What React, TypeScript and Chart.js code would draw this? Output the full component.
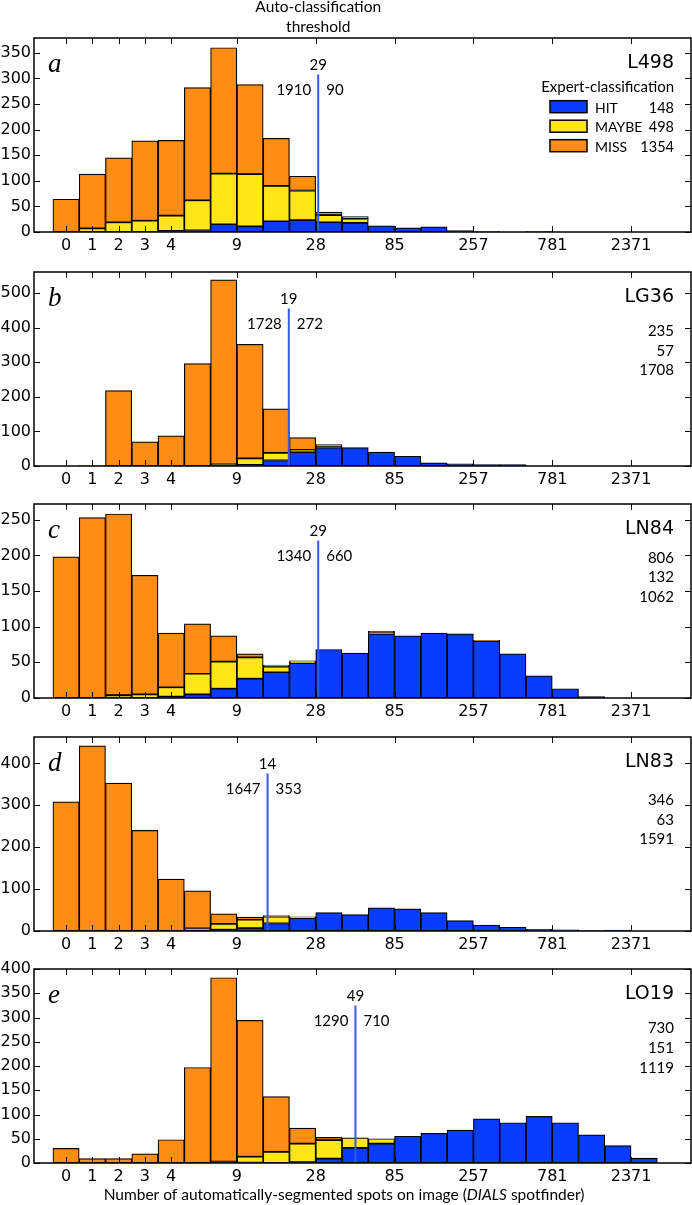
import React, { useEffect, useRef } from "react";
import { Chart, registerables } from "chart.js";

Chart.register(...registerables);

// ---------------- DATA ----------------
// Bin index (histogram bins on the x axis, one per bar)
const BIN_INDEX = [0, 1, 2, 3, 4, 5, 6, 7, 8, 9, 10, 11, 12, 13, 14, 15, 16, 17, 18, 19, 20, 21, 22];
// Tick values and the bin positions at which they sit
const TICK_VALUES = [0, 1, 2, 3, 4, 9, 28, 85, 257, 781, 2371];
const TICK_BIN = [0, 1, 2, 3, 4, 6.5, 9.5, 12.5, 15.5, 18.5, 21.5];

const CLASSES = ["HIT", "MAYBE", "MISS"];

// a: L498
const L498_HIT = [0, 0, 0, 0, 2, 3, 15, 11, 21, 23, 19, 18, 12, 8, 10, 3, 1, 0, 1, 0, 0, 0, 0];
const L498_MAYBE = [0, 7, 19, 22, 30, 59, 99, 102, 69, 58, 14, 8, 0, 0, 0, 0, 0, 0, 0, 0, 0, 0, 0];
const L498_MISS = [64, 106, 126, 156, 147, 220, 246, 175, 93, 28, 6, 4, 0, 0, 0, 0, 0, 0, 0, 0, 0, 0, 0];
const L498_COUNTS = [148, 498, 1354];
const L498_THRESHOLD = 29;
const L498_SPLIT = [1910, 90];

// b: LG36
const LG36_HIT = [0, 0, 0, 0, 0, 0, 1, 3, 16, 40, 53, 53, 40, 28, 9, 6, 4, 4, 0, 0, 0, 0, 0];
const LG36_MAYBE = [0, 0, 0, 0, 0, 0, 4, 19, 22, 7, 3, 0, 0, 0, 0, 0, 0, 0, 0, 0, 0, 0, 0];
const LG36_MISS = [0, 1, 218, 70, 87, 296, 533, 330, 127, 35, 6, 0, 0, 0, 0, 0, 0, 0, 0, 0, 0, 0, 0];
const LG36_COUNTS = [235, 57, 1708];
const LG36_THRESHOLD = 19;
const LG36_SPLIT = [1728, 272];

// c: LN84
const LN84_HIT = [0, 0, 1, 0, 2, 5, 13, 27, 36, 49, 68, 63, 90, 87, 91, 90, 80, 62, 31, 13, 2, 0, 0];
const LN84_MAYBE = [0, 0, 3, 5, 13, 29, 38, 30, 8, 1, 0, 0, 1, 0, 0, 0, 0, 0, 0, 0, 0, 0, 0];
const LN84_MISS = [198, 253, 254, 167, 76, 70, 36, 5, 2, 2, 0, 0, 3, 0, 0, 0, 1, 0, 0, 0, 0, 0, 0];
const LN84_COUNTS = [806, 132, 1062];
const LN84_THRESHOLD = 29;
const LN84_SPLIT = [1340, 660];

// d: LN83
const LN83_HIT = [0, 0, 0, 0, 0, 1, 3, 7, 18, 31, 44, 39, 55, 53, 44, 25, 14, 9, 4, 3, 1, 2, 0];
const LN83_MAYBE = [0, 0, 0, 0, 0, 5, 14, 20, 16, 2, 0, 0, 0, 0, 0, 0, 0, 0, 0, 0, 0, 0, 0];
const LN83_MISS = [308, 442, 353, 240, 124, 90, 24, 6, 3, 1, 0, 0, 0, 0, 0, 0, 0, 0, 0, 0, 0, 0, 0];
const LN83_COUNTS = [346, 63, 1591];
const LN83_THRESHOLD = 14;
const LN83_SPLIT = [1647, 353];

// e: LO19
const LO19_HIT = [0, 0, 0, 0, 0, 0, 1, 1, 0, 2, 9, 31, 40, 55, 61, 68, 91, 83, 96, 83, 58, 36, 10];
const LO19_MAYBE = [0, 0, 0, 0, 0, 0, 2, 12, 23, 38, 38, 21, 10, 0, 0, 0, 0, 0, 0, 0, 0, 0, 0];
const LO19_MISS = [30, 9, 9, 19, 48, 197, 379, 281, 114, 32, 6, 0, 0, 0, 0, 0, 0, 0, 0, 0, 0, 0, 0];
const LO19_COUNTS = [730, 151, 1119];
const LO19_THRESHOLD = 49;
const LO19_SPLIT = [1290, 710];

// ---------------- STYLE / LAYOUT ----------------
const COLORS = ["#0a3cff", "#ffe619", "#ff8c14"];
const LINE_BLUE = "#3558e8";
const W = 692;
const PLOT_H = 194;
const Y_AXIS_W = 34;
const X_AXIS_H = 30;
const RIGHT_PAD = 1;
const X_MIN = -1.22;
const X_MAX = 23.78;
const SANS = '"DejaVu Sans", sans-serif';
const HUMAN = 'Lato, "Open Sans", sans-serif';
const SERIF = '"Liberation Serif", "DejaVu Serif", serif';

const PANELS = [
  { letter: "a", name: "L498", hit: L498_HIT, maybe: L498_MAYBE, miss: L498_MISS, counts: L498_COUNTS, thr: L498_THRESHOLD, split: L498_SPLIT, yMax: 379, yStep: 50, legend: true, plotTop: 38, padTop: 38, padBottom: 0, countBase: 74.7, title: true, xlabel: false },
  { letter: "b", name: "LG36", hit: LG36_HIT, maybe: LG36_MAYBE, miss: LG36_MISS, counts: LG36_COUNTS, thr: LG36_THRESHOLD, split: LG36_SPLIT, yMax: 561, yStep: 100, legend: false, plotTop: 272, padTop: 16, padBottom: 0, countBase: 64, title: false, xlabel: false },
  { letter: "c", name: "LN84", hit: LN84_HIT, maybe: LN84_MAYBE, miss: LN84_MISS, counts: LN84_COUNTS, thr: LN84_THRESHOLD, split: LN84_SPLIT, yMax: 272, yStep: 50, legend: false, plotTop: 503.5, padTop: 16, padBottom: 0, countBase: 58.5, title: false, xlabel: false },
  { letter: "d", name: "LN83", hit: LN83_HIT, maybe: LN83_MAYBE, miss: LN83_MISS, counts: LN83_COUNTS, thr: LN83_THRESHOLD, split: LN83_SPLIT, yMax: 463, yStep: 100, legend: false, plotTop: 737, padTop: 16, padBottom: 0, countBase: 68, title: false, xlabel: false },
  { letter: "e", name: "LO19", hit: LO19_HIT, maybe: LO19_MAYBE, miss: LO19_MISS, counts: LO19_COUNTS, thr: LO19_THRESHOLD, split: LO19_SPLIT, yMax: 400, yStep: 50, legend: false, plotTop: 969, padTop: 16, padBottom: 12, countBase: 64.3, title: false, xlabel: true },
];

// position (in bin units) of a spot count, log-interpolated between labelled bin edges
function binPosition(v: number): number {
  for (let i = 0; i < TICK_VALUES.length - 1; i++) {
    const a = TICK_VALUES[i];
    const b = TICK_VALUES[i + 1];
    if (v >= a && v <= b) {
      const t = i >= 4 ? Math.log(v / a) / Math.log(b / a) : (v - a) / (b - a);
      return TICK_BIN[i] + t * (TICK_BIN[i + 1] - TICK_BIN[i]);
    }
  }
  return TICK_BIN[TICK_BIN.length - 1];
}

function text(ctx: CanvasRenderingContext2D, s: string, x: number, y: number, font: string, align: CanvasTextAlign = "left") {
  ctx.font = font;
  ctx.textAlign = align;
  ctx.textBaseline = "alphabetic";
  ctx.fillStyle = "#000";
  ctx.fillText(s, x, y);
}

function makePlugin(p: any) {
  return {
    id: "decor" + p.letter,
    afterDatasetsDraw(chart: any) {
      const ctx: CanvasRenderingContext2D = chart.ctx;
      const { left, right, top, bottom } = chart.chartArea;
      const xs = chart.scales.x;
      const ys = chart.scales.y;
      ctx.save();
      // threshold line
      const tx = xs.getPixelForValue(binPosition(p.thr));
      ctx.strokeStyle = LINE_BLUE;
      ctx.lineWidth = 2;
      ctx.beginPath();
      ctx.moveTo(tx, top + 36.5);
      ctx.lineTo(tx, bottom);
      ctx.stroke();
      // frame
      ctx.strokeStyle = "#000";
      ctx.lineWidth = 1.5;
      ctx.strokeRect(left, top, right - left, bottom - top);
      // inward ticks
      ctx.lineWidth = 1;
      ctx.beginPath();
      xs.ticks.forEach((t: any) => {
        const x = Math.round(xs.getPixelForValue(t.value)) + 0.5;
        ctx.moveTo(x, bottom);
        ctx.lineTo(x, bottom - 6);
        ctx.moveTo(x, top);
        ctx.lineTo(x, top + 6);
      });
      ys.ticks.forEach((t: any) => {
        const y = Math.round(ys.getPixelForValue(t.value)) + 0.5;
        ctx.moveTo(left, y);
        ctx.lineTo(left + 6, y);
        ctx.moveTo(right, y);
        ctx.lineTo(right - 6, y);
      });
      ctx.stroke();

      // threshold labels
      text(ctx, String(p.thr), tx, top + 31.5, `15px ${HUMAN}`, "center");
      text(ctx, String(p.split[0]), tx - 7, top + 56.5, `15px ${HUMAN}`, "right");
      text(ctx, String(p.split[1]), tx + 8, top + 56.5, `15px ${HUMAN}`, "left");

      // panel name & letter
      text(ctx, p.name, right - 17, top + 29.5, `19px ${SANS}`, "right");
      text(ctx, p.letter, left + 14, top + 34, `italic 27px ${SERIF}`, "left");

      // counts / legend
      if (p.legend) {
        text(ctx, "Expert-classification", right - 17, top + 54, `15px ${HUMAN}`, "right");
        CLASSES.forEach((c, i) => {
          const base = top + p.countBase + i * 19.5;
          ctx.fillStyle = COLORS[i];
          ctx.fillRect(right - 141, base - 12, 37, 12);
          ctx.strokeStyle = "#000";
          ctx.lineWidth = 1.5;
          ctx.strokeRect(right - 141, base - 12, 37, 12);
          text(ctx, c, right - 96, base, `14px ${HUMAN}`, "left");
          text(ctx, String(p.counts[i]), right - 17, base, `14.5px ${HUMAN}`, "right");
        });
      } else {
        p.counts.forEach((n: number, i: number) => {
          text(ctx, String(n), right - 17, top + p.countBase + i * 19.7, `15px ${HUMAN}`, "right");
        });
      }

      if (p.title) {
        text(ctx, "Auto-classification", tx, 12, `15.5px ${HUMAN}`, "center");
        text(ctx, "threshold", tx, 32, `15.5px ${HUMAN}`, "center");
      }
      if (p.xlabel) {
        const parts = [
          { s: "Number of automatically-segmented spots on image (", f: `15.5px ${HUMAN}` },
          { s: "DIALS", f: `italic 15.5px ${HUMAN}` },
          { s: " spotfinder)", f: `15.5px ${HUMAN}` },
        ];
        let total = 0;
        parts.forEach((q) => {
          ctx.font = q.f;
          total += ctx.measureText(q.s).width;
        });
        let x = 344 - total / 2;
        parts.forEach((q) => {
          text(ctx, q.s, x, bottom + 37, q.f, "left");
          ctx.font = q.f;
          x += ctx.measureText(q.s).width;
        });
      }
      ctx.restore();
    },
  };
}

function Panel({ p }: { p: any }) {
  const ref = useRef<HTMLCanvasElement | null>(null);
  const h = p.padTop + PLOT_H + X_AXIS_H + p.padBottom;
  useEffect(() => {
    if (!ref.current) return;
    const series = [p.hit, p.maybe, p.miss];
    const chart = new Chart(ref.current, {
      type: "bar",
      data: {
        datasets: series.map((arr: number[], k: number) => ({
          label: CLASSES[k],
          data: arr.map((y, i) => ({ x: BIN_INDEX[i], y: y === 0 ? null : y })),
          backgroundColor: COLORS[k],
          borderColor: "#000",
          borderWidth: 1.2,
          borderSkipped: false,
          barPercentage: 1,
          categoryPercentage: 1,
        })),
      },
      options: {
        animation: false,
        responsive: false,
        maintainAspectRatio: false,
        devicePixelRatio: 1,
        layout: { padding: { top: p.padTop, right: RIGHT_PAD, bottom: p.padBottom, left: 0 } },
        plugins: { legend: { display: false }, tooltip: { enabled: false } },
        scales: {
          x: {
            type: "linear",
            min: X_MIN,
            max: X_MAX,
            stacked: true,
            offset: false,
            grid: { display: false, drawTicks: false },
            border: { display: false },
            ticks: {
              autoSkip: false,
              maxRotation: 0,
              minRotation: 0,
              padding: 4,
              color: "#000",
              font: { family: SANS, size: 16 },
              callback: (v: any) => {
                const idx = TICK_BIN.indexOf(Number(v));
                return idx >= 0 ? String(TICK_VALUES[idx]) : "";
              },
            },
            afterBuildTicks: (s: any) => {
              s.ticks = TICK_BIN.map((v) => ({ value: v }));
            },
            afterFit: (s: any) => {
              s.height = X_AXIS_H;
            },
          },
          y: {
            min: 0,
            max: p.yMax,
            stacked: true,
            grid: { display: false, drawTicks: false },
            border: { display: false },
            ticks: {
              stepSize: p.yStep,
              includeBounds: false,
              padding: 3,
              color: "#000",
              font: { family: SANS, size: 16 },
            },
            afterFit: (s: any) => {
              s.width = Y_AXIS_W;
            },
          },
        },
      } as any,
      plugins: [makePlugin(p)],
    });
    return () => chart.destroy();
  }, []);
  return (
    <canvas
      ref={ref}
      width={W}
      height={h}
      style={{ position: "absolute", left: 0, top: p.plotTop - p.padTop, width: W, height: h }}
    />
  );
}

export default function App() {
  return (
    <div style={{ position: "absolute", left: 0, top: 0, width: W, height: 1205, background: "#fff", overflow: "hidden" }}>
      {PANELS.map((p) => (
        <Panel key={p.letter} p={p} />
      ))}
    </div>
  );
}
